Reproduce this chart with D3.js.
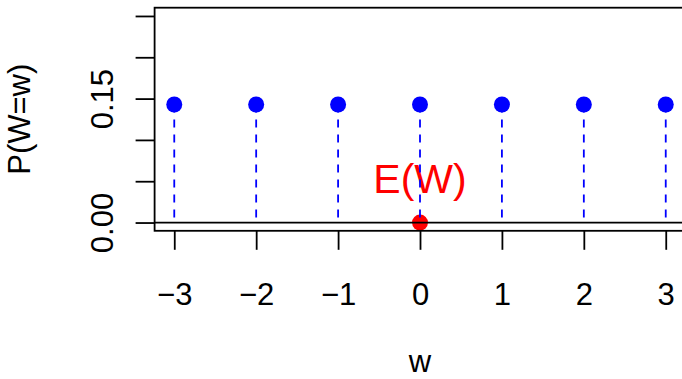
<!DOCTYPE html>
<html>
<head>
<meta charset="utf-8">
<script src="https://cdn.jsdelivr.net/npm/d3@7"></script>
<style>
  html, body { margin: 0; padding: 0; background: #fff; }
  svg { display: block; font-family: "Liberation Sans", Arial, sans-serif; }
</style>
</head>
<body>
<div id="chart"></div>
<script>
// values of W and their probabilities (uniform on -3..3)
var wValues = [-3, -2, -1, 0, 1, 2, 3];
var probs = [1/7, 1/7, 1/7, 1/7, 1/7, 1/7, 1/7];
var xTicks = [-3, -2, -1, 0, 1, 2, 3];
var yTicks = [0, 0.05, 0.10, 0.15, 0.20, 0.25];
var yTickLabels = ["0.00", "", "", "0.15", "", ""];
var expectation = 0;

var W = 682, H = 379;
var svg = d3.select("#chart").append("svg")
  .attr("width", W).attr("height", H);

// plot region (R style, xlim/ylim extended 4%)
var x = d3.scaleLinear().domain([-3.24, 3.24]).range([154.6, 685.4]);
var y = d3.scaleLinear().domain([-0.01, 0.26]).range([230.8, 7.7]);

var lw = 1.8;
var fontSize = 31;
var tickLen = 19;
var r = x.range(), yr = y.range();

// E(W) point
svg.append("circle")
  .attr("cx", x(expectation)).attr("cy", y(0)).attr("r", 8)
  .attr("fill", "#ff0000");

// E(W) label
svg.append("text")
  .attr("x", x(expectation)).attr("y", 193)
  .attr("text-anchor", "middle")
  .attr("font-size", 41)
  .attr("fill", "#ff0000")
  .text("E(W)");

// horizontal line at 0, clipped to the plot region
svg.append("line")
  .attr("x1", r[0]).attr("x2", W)
  .attr("y1", y(0)).attr("y2", y(0))
  .attr("stroke", "#000").attr("stroke-width", lw);

// dashed stems
svg.selectAll("line.stem")
  .data(wValues)
  .enter().append("line")
  .attr("class", "stem")
  .attr("x1", function(d){ return x(d); })
  .attr("x2", function(d){ return x(d); })
  .attr("y1", function(d, i){ return y(probs[i]); })
  .attr("y2", y(0))
  .attr("stroke", "#0000ff")
  .attr("stroke-width", lw)
  .attr("stroke-dasharray", "8,7");

// blue points
svg.selectAll("circle.pt")
  .data(wValues)
  .enter().append("circle")
  .attr("class", "pt")
  .attr("cx", function(d){ return x(d); })
  .attr("cy", function(d, i){ return y(probs[i]); })
  .attr("r", 8)
  .attr("fill", "#0000ff");

// box
svg.append("rect")
  .attr("x", r[0]).attr("y", yr[1])
  .attr("width", r[1] - r[0]).attr("height", yr[0] - yr[1])
  .attr("fill", "none")
  .attr("stroke", "#000").attr("stroke-width", lw);

// x axis
var xAxis = d3.axisBottom(x)
  .tickValues(xTicks)
  .tickSize(tickLen)
  .tickFormat(function(d){ return d < 0 ? "\u2212" + Math.abs(d) : d; });
var gx = svg.append("g")
  .attr("transform", "translate(0," + yr[0] + ")")
  .call(xAxis);
gx.select(".domain").remove();
gx.selectAll(".tick line").attr("stroke", "#000").attr("stroke-width", lw);
gx.selectAll(".tick text")
  .attr("font-size", fontSize)
  .attr("font-family", "Liberation Sans, Arial, sans-serif")
  .attr("fill", "#000")
  .attr("dy", null)
  .attr("y", 305 - yr[0]);

// y axis
var yAxis = d3.axisLeft(y)
  .tickValues(yTicks)
  .tickSize(tickLen)
  .tickFormat(function(d, i){ return yTickLabels[i]; });
var gy = svg.append("g")
  .attr("transform", "translate(" + r[0] + ",0)")
  .call(yAxis);
gy.select(".domain").remove();
gy.selectAll(".tick line").attr("stroke", "#000").attr("stroke-width", lw);
gy.selectAll(".tick text")
  .attr("font-size", fontSize)
  .attr("font-family", "Liberation Sans, Arial, sans-serif")
  .attr("fill", "#000")
  .attr("x", null).attr("dy", null)
  .attr("text-anchor", "middle")
  .attr("transform", "translate(" + (112.5 - r[0]) + ",0) rotate(-90)")
  .attr("y", 0);

// axis titles
svg.append("text")
  .attr("x", x(0)).attr("y", 372)
  .attr("text-anchor", "middle")
  .attr("font-size", fontSize)
  .text("w");

svg.append("text")
  .attr("transform", "translate(30," + ((yr[0] + yr[1]) / 2) + ") rotate(-90)")
  .attr("text-anchor", "middle")
  .attr("font-size", fontSize)
  .text("P(W=w)");
</script>
</body>
</html>
